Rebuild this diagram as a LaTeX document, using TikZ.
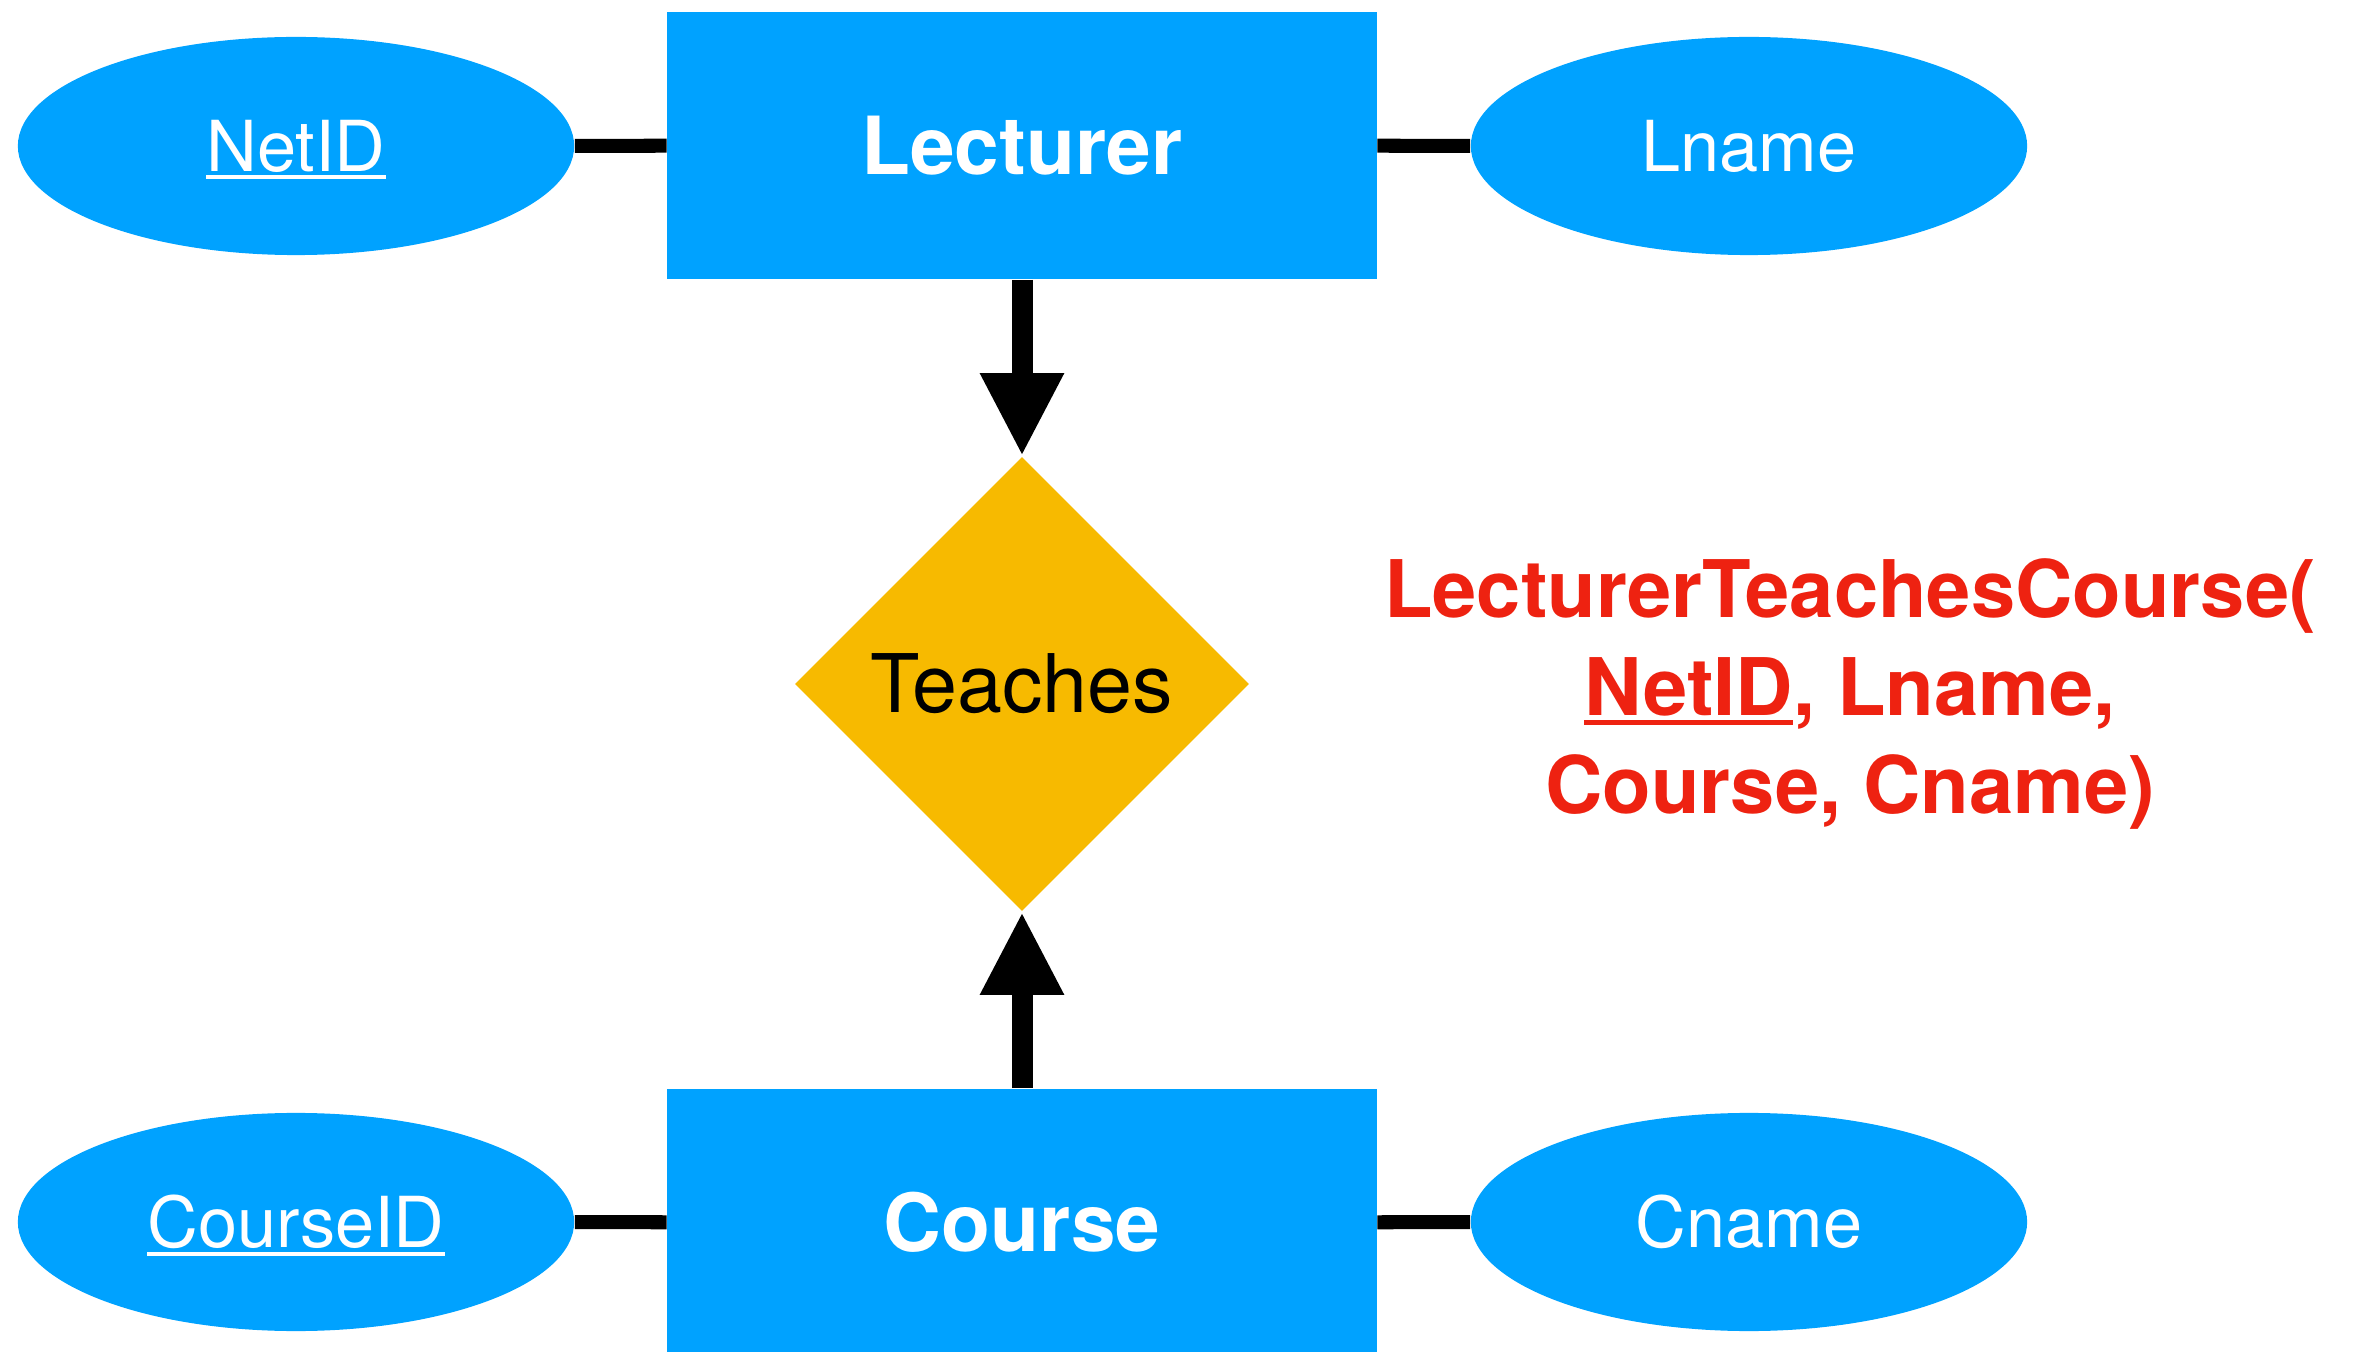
\documentclass[tikz,border=0pt]{standalone}
\usepackage{fontspec}
\setmainfont{TeX Gyre Heros}
\usetikzlibrary{shapes.geometric,arrows.meta}
\definecolor{entblue}{RGB}{0,162,255}
\definecolor{relgold}{RGB}{247,186,0}
\definecolor{keyred}{RGB}{238,34,17}
% underline used for key attributes (kept out of the box's depth)
\newcommand\keyul[1]{\setbox0\hbox{#1}\rlap{\smash{\rule[-0.115em]{\wd0}{0.055em}}}\box0}
\begin{document}
\begin{tikzpicture}[x=0.01cm, y=-0.01cm,
  entity/.style={rectangle, fill=entblue, text=white, inner sep=0pt,
    minimum width=7.09cm, minimum height=2.67cm,
    font=\fontsize{22.8}{27}\selectfont\bfseries},
  attr/.style={ellipse, fill=entblue, text=white, inner sep=0pt,
    minimum width=5.56cm, minimum height=2.18cm,
    font=\fontsize{20}{24}\selectfont},
  rel/.style={diamond, fill=relgold, inner sep=0pt,
    minimum width=4.54cm, minimum height=4.54cm,
    font=\fontsize{23}{27}\selectfont},
  link/.style={line width=0.14cm},
  card/.style={line width=0.21cm, -{Triangle[length=0.83cm,width=0.78cm]}},
  schema/.style={text=keyred, align=center, inner sep=0pt,
    font=\fontsize{22.6}{27.9}\selectfont\bfseries}]
\useasboundingbox (0,0) rectangle (2353,1352);
\clip (0,0) rectangle (2353,1352);

% entities
\node[entity] (lect) at (1022,145.5) {Lecturer};
\node[entity] (course) at (1022,1222.5) {Course};

% attributes
\node[attr] (netid) at (296,146) {\keyul{NetID}};
\node[attr] (lname) at (1749,146) {Lname};
\node[attr] (cid) at (296,1222) {\keyul{CourseID}};
\node[attr] (cname) at (1749,1222) {Cname};

% relationship
\node[rel] (teach) at (1022,684) {Teaches};

% attribute links
\draw[link] (netid) -- (lect);
\draw[link] (lect) -- (lname);
\draw[link] (cid) -- (course);
\draw[link] (course) -- (cname);

% participation arrows
\draw[card] (lect) -- (teach);
\draw[card] (course) -- (teach);

% relational schema
\node[schema] (relschema) at (1850,694)
  {LecturerTeachesCourse(\\\keyul{NetID}, Lname,\\Course, Cname)};
\end{tikzpicture}
\end{document}
